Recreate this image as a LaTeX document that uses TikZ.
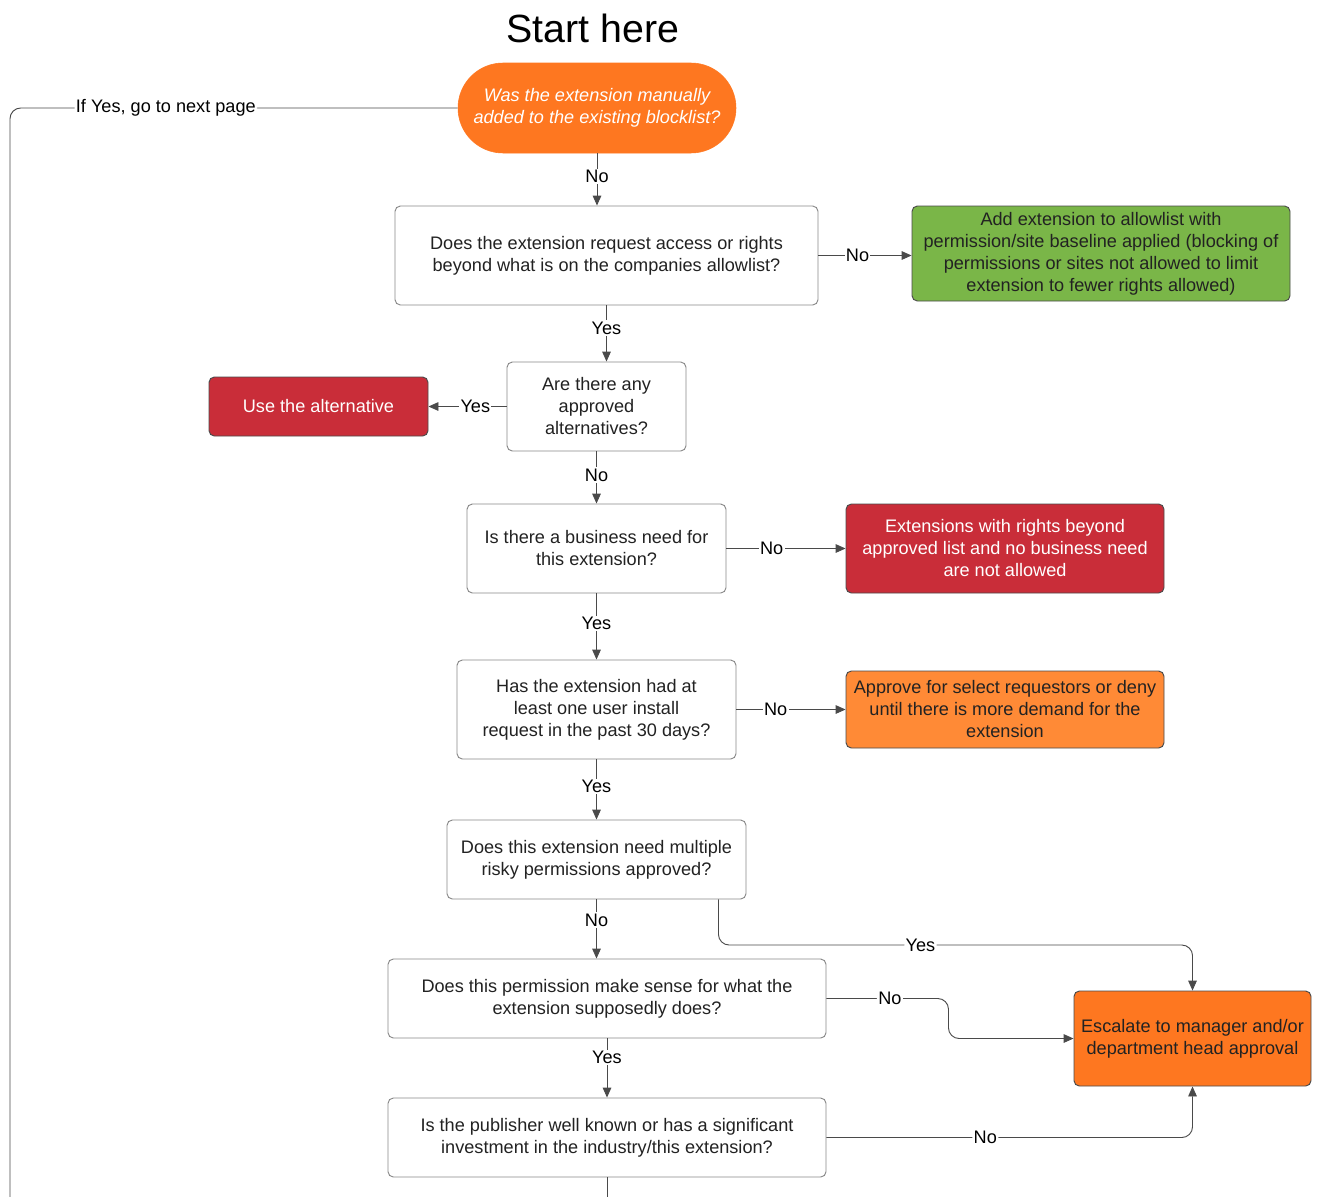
\documentclass[tikz,border=0pt]{standalone}
\usepackage{fontspec}
\setmainfont{Liberation Sans}
\usetikzlibrary{arrows.meta,shapes.misc}

\definecolor{wireGray}{HTML}{4A4A4A}
\definecolor{boxGray}{HTML}{888888}
\definecolor{inkDark}{HTML}{222222}
\definecolor{pillOrange}{HTML}{FE7720}
\definecolor{softOrange}{HTML}{FF8A36}
\definecolor{okGreen}{HTML}{7AB648}
\definecolor{stopRed}{HTML}{C92D39}

\tikzset{
  flowbox/.style={draw=boxGray, fill=white, rounded corners=4pt, line width=0.7pt,
    align=center, text=inkDark, inner sep=0pt, font=\fontsize{13.6}{16.5}\selectfont},
  endbox/.style={flowbox, draw=wireGray, text=white},
  wire/.style={draw=wireGray, line width=0.7pt},
  link/.style={wire, -{Triangle[length=7.5pt,width=6.5pt]}},
  tag/.style={fill=white, inner sep=1pt, text=black, font=\fontsize{13.6}{15}\selectfont}
}

\begin{document}
\begin{tikzpicture}[x=0.75pt, y=-0.75pt]
\def\px{0.75pt} % one pixel of the reference
\useasboundingbox (0,0) rectangle (1319,1196);

% Title
\node[font=\fontsize{29.5}{34}\selectfont] (title) at (593,28) {Start here};

% Question boxes down the middle
\node[rounded rectangle, fill=pillOrange, draw=pillOrange, text=white, align=center,
      minimum width=278*\px, minimum height=90*\px, inner sep=0pt,
      font=\itshape\fontsize{13.6}{16.5}\selectfont] (start) at (597,108)
      {Was the extension manually\\added to the existing blocklist?};
\node[flowbox, minimum width=423*\px, minimum height=99*\px] (rights) at (606.5,255.5)
      {Does the extension request access or rights\\beyond what is on the companies allowlist?};
\node[flowbox, minimum width=179*\px, minimum height=89*\px] (alts) at (596.5,406.5)
      {Are there any\\approved\\alternatives?};
\node[flowbox, minimum width=259*\px, minimum height=89*\px] (need) at (596.5,548.5)
      {Is there a business need for\\this extension?};
\node[flowbox, minimum width=279*\px, minimum height=99*\px] (install) at (596.5,709.5)
      {Has the extension had at\\least one user install\\request in the past 30 days?};
\node[flowbox, minimum width=299*\px, minimum height=79*\px] (risky) at (596.5,859.5)
      {Does this extension need multiple\\risky permissions approved?};
\node[flowbox, minimum width=438*\px, minimum height=79*\px] (sense) at (607,998.5)
      {Does this permission make sense for what the\\extension supposedly does?};
\node[flowbox, minimum width=438*\px, minimum height=79*\px] (publisher) at (607,1137.5)
      {Is the publisher well known or has a significant\\investment in the industry/this extension?};

% Outcome boxes
\node[endbox, fill=okGreen, text=inkDark, minimum width=378*\px, minimum height=95*\px] (allow) at (1101,253.5)
      {Add extension to allowlist with\\permission/site baseline applied (blocking of\\permissions or sites not allowed to limit\\extension to fewer rights allowed)};
\node[endbox, fill=stopRed, minimum width=219*\px, minimum height=59*\px] (usealt) at (318.5,406.5)
      {Use the alternative};
\node[endbox, fill=stopRed, minimum width=318*\px, minimum height=89*\px] (denied) at (1005,548.5)
      {Extensions with rights beyond\\approved list and no business need\\are not allowed};
\node[endbox, fill=softOrange, text=inkDark, minimum width=318*\px, minimum height=77*\px] (select) at (1005,709.5)
      {Approve for select requestors or deny\\until there is more demand for the\\extension};
\node[endbox, fill=pillOrange, text=inkDark, minimum width=237*\px, minimum height=95*\px] (escalate) at (1192.5,1038.5)
      {Escalate to manager and/or\\department head approval};

% Free ends running off the page
\coordinate (pagelink) at (10,1200);
\coordinate (nextstep) at (607,1200);
\coordinate (yesturn) at (1192.5,945);

% Connectors
\draw[wire, rounded corners=8pt] (start.west) -| node[tag, pos=0.326] {If Yes, go to next page} (pagelink);
\draw[link] (start.south) -- node[tag, pos=0.45] {No} (start.south |- rights.north);
\draw[link] (rights.east) -- node[tag, pos=0.42] {No} (rights.east -| allow.west);
\draw[link] (rights.south) -- node[tag, pos=0.4] {Yes} (rights.south |- alts.north);
\draw[link] (alts.west) -- node[tag, pos=0.4] {Yes} (usealt.east);
\draw[link] (alts.south) -- node[tag, pos=0.45] {No} (need.north);
\draw[link] (need.east) -- node[tag, pos=0.38] {No} (denied.west);
\draw[link] (need.south) -- node[tag, pos=0.45] {Yes} (install.north);
\draw[link] (install.east) -- node[tag, pos=0.36] {No} (select.west);
\draw[link] (install.south) -- node[tag, pos=0.45] {Yes} (risky.north);
\draw[link] (risky.south) -- node[tag, pos=0.35] {No} (risky.south |- sense.north);
\draw[link, rounded corners=8pt] ([xshift=-28*\px]risky.south east) |- node[tag, pos=0.713] {Yes} (yesturn) -- (escalate.north);
\draw[link, rounded corners=8pt] (sense.east) -- node[tag, pos=0.52] {No} ++(122,0) |- (escalate.west);
\draw[link] (sense.south) -- node[tag, pos=0.32] {Yes} (publisher.north);
\draw[link, rounded corners=8pt] (publisher.east) -| node[tag, pos=0.217] {No} (escalate.south);
\draw[wire] (publisher.south) -- (nextstep);
\end{tikzpicture}
\end{document}
